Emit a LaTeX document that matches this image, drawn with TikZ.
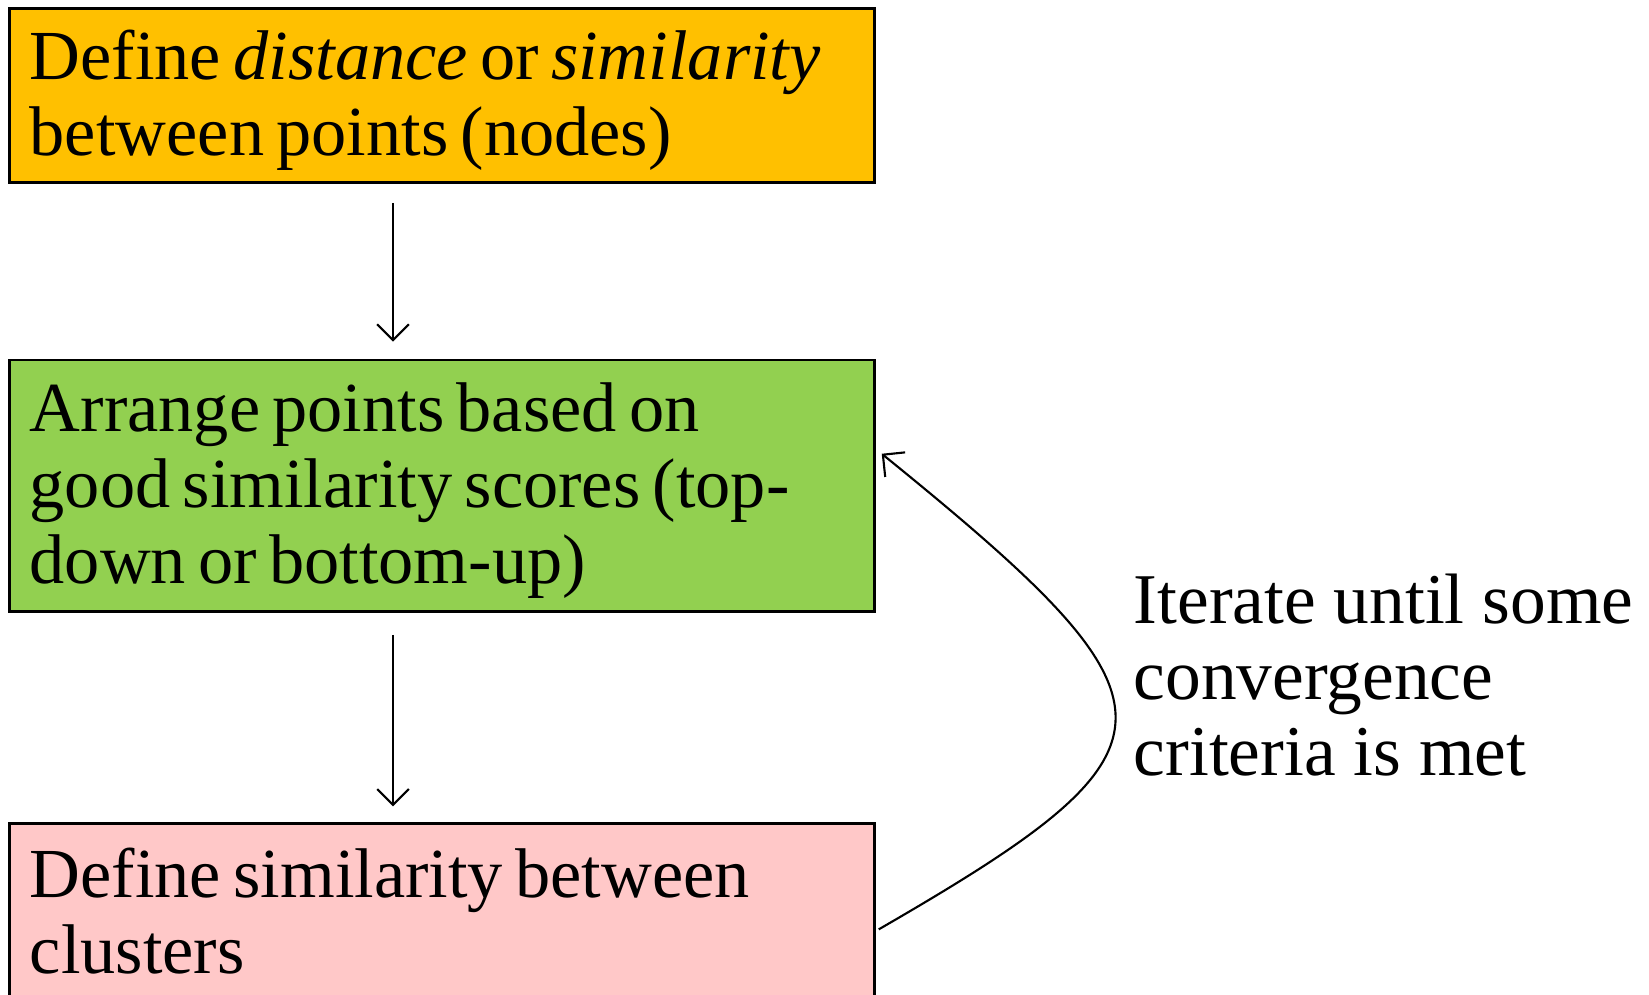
\documentclass[tikz,border=0pt]{standalone}
\usepackage{fontspec}
\setmainfont{Liberation Serif}
\usetikzlibrary{arrows.meta,calc}

\definecolor{boxgold}{HTML}{FFC000}
\definecolor{boxgreen}{HTML}{92D050}
\definecolor{boxpink}{HTML}{FFC8C8}

\newcommand{\stepfont}{\fontsize{20pt}{21.6pt}\selectfont}
\newcommand{\stepspace}{\spaceskip=3.5pt\relax}
\newcommand{\lowstrut}{\rule{0pt}{16.7pt}}

\begin{document}
\begin{tikzpicture}[x=0.01cm, y=-0.01cm,
    stepbox/.style={draw, line width=0.8pt, anchor=north west, align=left,
        text width=8.24cm, inner xsep=0.2cm, inner ysep=0pt, font=\stepfont,
        execute at begin node=\stepspace},
    flow/.style={-{Straight Barb[length=4.5pt, width=9pt]}, line width=0.6pt}]
    \useasboundingbox (0,0) rectangle (1649,995);

    % Draw the three steps
    \node[stepbox, fill=boxgold, minimum height=1.736cm] (define) at (8.4,7.4)
        {\lowstrut Define \textit{distance} or \textit{similarity}\\between points (nodes)};
    \node[stepbox, fill=boxgreen, minimum height=2.514cm] (arrange) at (8.4,358.6)
        {\lowstrut Arrange points based on\\good similarity scores (top-\\down or bottom-up)};
    \node[stepbox, fill=boxpink, minimum height=1.75cm] (clusters) at (8.4,822.4)
        {Define similarity between\\clusters};

    % Draw the arrows between steps
    \draw[flow, shorten <=0.19cm, shorten >=0.17cm]
        ([xshift=-0.49cm]define.south) -- ([xshift=-0.49cm]arrange.north);
    \draw[flow, shorten <=0.22cm, shorten >=0.16cm]
        ([xshift=-0.49cm]arrange.south) -- ([xshift=-0.49cm]clusters.north);

    % Draw the loop back
    \draw[flow] ([xshift=0.03cm, yshift=-0.18cm]clusters.east)
        .. controls +(315,-182) and +(312,253) .. ([xshift=0.06cm, yshift=0.32cm]arrange.east);
    \node[anchor=west, align=left, inner sep=0pt,
        font=\fontsize{20.3pt}{21.6pt}\selectfont] (iterate) at (1133,675)
        {Iterate until some\\convergence\\criteria is met};
\end{tikzpicture}
\end{document}
